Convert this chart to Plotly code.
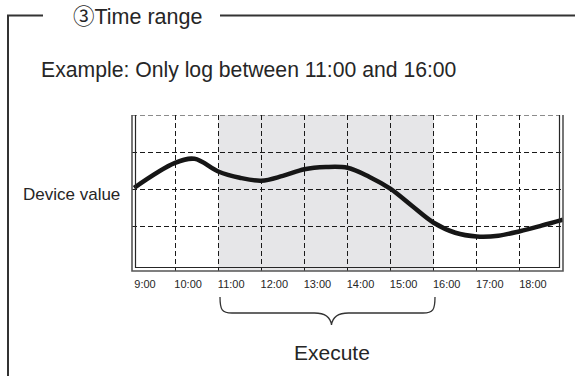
import plotly.graph_objects as go

# ---- data ----
hours = [9.05, 10.0, 10.45, 11.0, 11.5, 12.0, 12.5, 13.0, 13.5, 14.0, 14.5, 15.0,
         15.5, 16.0, 16.5, 17.0, 17.5, 18.0, 18.5, 19.0]
device_values = [2.04, 2.71, 2.82, 2.48, 2.31, 2.23, 2.36, 2.54, 2.60, 2.58, 2.34, 2.01,
                 1.55, 1.10, 0.83, 0.73, 0.75, 0.87, 1.02, 1.18]
tick_hours = [9, 10, 11, 12, 13, 14, 15, 16, 17, 18]
tick_labels = ["9:00", "10:00", "11:00", "12:00", "13:00", "14:00", "15:00",
               "16:00", "17:00", "18:00"]
grid_levels = [1, 2, 3, 4]
exec_start, exec_end = 11, 16

title_text = "③Time range"
example_text = "Example: Only log between 11:00 and 16:00"
ylabel_text = "Device value"
exec_text = "Execute"

# ---- layout geometry (page pixels; page body margin is removed) ----
PAGE_W, PAGE_H = 575, 376
FW, FH = PAGE_W, PAGE_H
L, R, T, B = 132, 563, 115, 271     # plot area on the page
ML, MT = L, T
MR, MB = PAGE_W - R, PAGE_H - B
PW = R - L
PH = B - T


def px(x):
    return (x - L) / PW


def py(y):
    return (B - y) / PH


INK = "#262626"
GRID = "#1a1a1a"
FONT = "Liberation Sans, Arial, Helvetica, sans-serif"

fig = go.Figure()
fig.add_trace(go.Scatter(
    x=hours, y=device_values, mode="lines",
    line=dict(color="#161616", width=4.5, shape="spline", smoothing=1.0),
    hoverinfo="skip", showlegend=False))

shapes = []
# shaded execution window
shapes.append(dict(type="rect", xref="x", yref="y", x0=exec_start, x1=exec_end,
                   y0=-0.2, y1=4, fillcolor="#e6e6e8", line=dict(width=0),
                   layer="below"))
# top dashed grid line (at the plot edge)
shapes.append(dict(type="line", xref="paper", yref="y", x0=0, x1=px(R - 3.5),
                   y0=grid_levels[-1], y1=grid_levels[-1],
                   line=dict(color=GRID, width=1.1, dash="5px,3px")))


# double border (left, bottom, right)
def box_path(inset):
    x0 = px(L + inset)
    x1 = px(R - inset)
    yt = py(T)
    yb = py(B - inset)
    return f"M {x0},{yt} L {x0},{yb} L {x1},{yb} L {x1},{yt}"


shapes.append(dict(type="path", xref="paper", yref="paper", path=box_path(0),
                   line=dict(color="#555555", width=1.6)))
shapes.append(dict(type="path", xref="paper", yref="paper", path=box_path(3.5),
                   line=dict(color=INK, width=1.2)))

# outer section frame
frame_y = py(15.5)
shapes.append(dict(type="line", xref="paper", yref="paper",
                   x0=px(8), x1=px(8), y0=frame_y, y1=py(PAGE_H + 5),
                   line=dict(color="#333333", width=2)))
shapes.append(dict(type="line", xref="paper", yref="paper",
                   x0=px(7), x1=px(43), y0=frame_y, y1=frame_y,
                   line=dict(color="#333333", width=2)))
shapes.append(dict(type="line", xref="paper", yref="paper",
                   x0=px(220), x1=px(PAGE_W + 5), y0=frame_y, y1=frame_y,
                   line=dict(color="#333333", width=2)))


# brace under the execution window
def P(x, y):
    return f"{px(x)},{py(y)}"


bl, br = 220, 435
tip = 331.5
brace = (f"M {P(bl, 297)} C {P(bl, 310)} {P(bl + 2, 313)} {P(bl + 12, 313)} "
         f"L {P(tip - 17, 313)} C {P(tip - 6, 313)} {P(tip - 1, 317)} {P(tip, 325)} "
         f"C {P(tip + 1, 317)} {P(tip + 6, 313)} {P(tip + 17, 313)} "
         f"L {P(br - 12, 313)} C {P(br - 2, 313)} {P(br, 310)} {P(br, 297)}")
shapes.append(dict(type="path", xref="paper", yref="paper", path=brace,
                   line=dict(color="#333333", width=1.3)))

annotations = [
    dict(text=title_text, x=px(71), y=py(16.5), xref="paper", yref="paper",
         xanchor="left", yanchor="middle", showarrow=False,
         font=dict(family=FONT + ", Noto Sans CJK JP", size=21.5, color=INK)),
    dict(text=example_text, x=px(39), y=py(70), xref="paper", yref="paper",
         xanchor="left", yanchor="middle", showarrow=False,
         font=dict(family=FONT, size=21.2, color=INK)),
    dict(text=ylabel_text, x=px(71.5), y=py(194), xref="paper", yref="paper",
         xanchor="center", yanchor="middle", showarrow=False,
         font=dict(family=FONT, size=17, color=INK)),
    dict(text=exec_text, x=px(332), y=py(352), xref="paper", yref="paper",
         xanchor="center", yanchor="middle", showarrow=False,
         font=dict(family=FONT, size=21, color=INK)),
]

fig.update_layout(
    width=FW, height=FH,
    margin=dict(l=ML, r=MR, t=MT, b=MB, pad=0),
    paper_bgcolor="white", plot_bgcolor="rgba(0,0,0,0)",
    shapes=shapes, annotations=annotations, showlegend=False,
    xaxis=dict(range=[9, 19], tickvals=tick_hours, ticktext=tick_labels,
               showgrid=True, gridcolor=GRID, gridwidth=1.1, griddash="5px,3px",
               zeroline=False, showline=False, ticks="", ticklabelshift=13,
               ticklabelstandoff=5,
               tickfont=dict(family=FONT, size=11, color=INK), fixedrange=True),
    yaxis=dict(range=[-0.2, 4], tickvals=grid_levels, showticklabels=False,
               showgrid=True, gridcolor=GRID, gridwidth=1.1, griddash="5px,3px",
               zeroline=False, showline=False, ticks="", fixedrange=True),
)

fig.write_html(
    "out.html",
    config={"displayModeBar": False, "staticPlot": True},
    post_script="document.body.style.margin='0';document.body.style.padding='0';"
                "document.body.style.overflow='hidden';",
)
